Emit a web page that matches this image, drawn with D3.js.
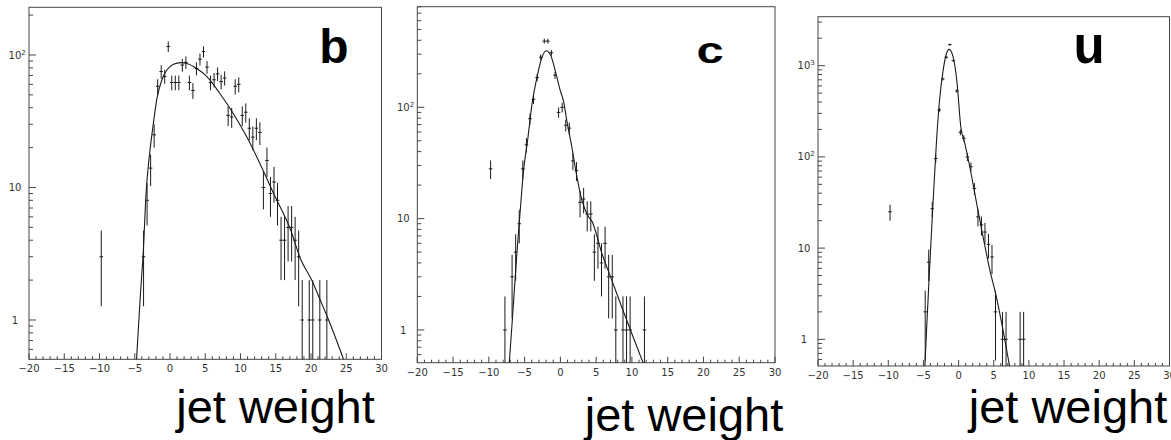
<!DOCTYPE html>
<html><head><meta charset="utf-8">
<script src="https://cdn.jsdelivr.net/npm/d3@7/dist/d3.min.js"></script>
<style>body{margin:0;background:#fff}svg{display:block}</style>
</head><body>
<svg id="chart" width="1171" height="440"></svg>
<script>
// ---------- data ----------
const xTickValues = [-20,-15,-10,-5,0,5,10,15,20,25,30];
const binWidth = 0.5;

// panel b
const bX = [-9.75,-3.75,-3.25,-2.75,-2.25,-1.75,-1.25,-0.75,-0.25,0.25,0.75,1.25,1.75,2.25,2.75,3.25,3.75,4.25,4.75,5.25,5.75,6.25,6.75,7.25,7.75,8.25,8.75,9.25,9.75,10.25,10.75,11.25,11.75,12.25,12.75,13.25,13.75,14.25,14.75,15.25,15.75,16.25,16.75,17.25,17.75,18.25,18.75,19.75,20.25,21.25,22.25];
const bN = [3,3,8,14,25,58,75,69,116,62,62,62,84,88,62,54,79,93,106,81,62,65,72,63,67,35,34,58,60,35,37,28,24,28,26,10,16,9,11,8,4,4,5,5,4,3,1,1,1,1,1];
const bFitX = [-4.75,-4.25,-3.75,-3.4,-3.05,-2.45,-1.85,-1.15,-0.45,0.5,1.5,2.5,3.8,5.2,7.1,9.0,10.9,12.8,14.7,17.1,18.5,20.1,21.3,22.5,24.65];
const bFitY = [0.5,1.4,3.6,9,15,28,47,65,77,85,87.5,86,79,69,51,36,24,15,9,4.8,2.9,2.0,1.42,1.0,0.5];
const bYTicks = [1,10,100];

// panel c
const cX = [-9.75,-7.75,-6.75,-6.25,-5.75,-5.25,-4.75,-4.25,-3.75,-3.25,-2.75,-2.25,-1.75,-1.25,-0.75,-0.25,0.25,0.75,1.25,1.75,2.25,2.75,3.25,3.75,4.25,4.75,5.25,5.75,6.25,6.75,7.25,7.75,8.75,9.25,9.75,11.75];
const cN = [28,1,3,5,9,28,46,79,118,185,282,393,393,309,194,90,100,69,65,33,27,14,15,11,11,5,6,4,6,3,3,1,1,1,1,1];
const cFitX = [-7.15,-6.69,-6.08,-5.61,-5.15,-4.59,-3.98,-3.28,-2.58,-2.0,-1.42,-0.73,-0.03,0.43,0.9,1.6,2.3,3.0,3.93,4.4,5.79,7.19,8.59,9.98,11.6];
const cFitY = [0.5,1.3,4.9,11.9,27,50,105,185,280,322,300,215,142,114,76,44,24,14.7,10.4,9.5,4.9,2.8,1.6,0.93,0.5];
const cYTicks = [1,10,100];

// panel u
const uX = [-9.75,-4.75,-4.25,-3.75,-3.25,-2.75,-2.25,-1.75,-1.25,-0.75,-0.25,0.25,0.75,1.25,1.75,2.25,2.75,3.25,3.75,4.25,4.75,5.25,6.25,6.75,8.75,9.25];
const uN = [25,2,7,27,96,327,715,1236,1700,1135,528,186,160,100,78,45,22,18,15,11,8,2,1,1,1,1];
const uFitX = [-4.8,-4.56,-4.09,-3.62,-3.14,-2.67,-2.2,-1.72,-1.35,-0.78,-0.21,0.31,0.88,1.59,2.6,3.48,4.43,5.38,6.32,7.27];
const uFitY = [0.5,1.26,6.8,33,150,450,890,1360,1510,1250,640,214,141,78,30,13.3,5.8,2.9,1.26,0.5];
const uYTicks = [1,10,100,1000];

const panelNames = ["b","c","u"];
const axisTitle = "jet weight";

// ---------- layout (positions & styles) ----------
const layout = [
  {left:29,   right:381.5, top:7.3,  bottom:359.3, yMin:0.505, yMax:229,
   lab:{x:334, y:62.5, size:48, sx:1}, title:{x:275.5, y:423}},
  {left:417.3,right:775,   top:6.7,  bottom:362.7, yMin:0.508, yMax:801,
   lab:{x:710, y:63.3, size:37, sx:1.32}, title:{x:684, y:431}},
  {left:818,  right:1169.5,top:16.7, bottom:366,   yMin:0.51,  yMax:3443,
   lab:{x:1089, y:63.3, size:51, sx:1}, title:{x:1068, y:423}}
];
const series = [
  {xs:bX, ns:bN, fx:bFitX, fy:bFitY, yt:bYTicks},
  {xs:cX, ns:cN, fx:cFitX, fy:cFitY, yt:cYTicks},
  {xs:uX, ns:uN, fx:uFitX, fy:uFitY, yt:uYTicks}
];

const svg = d3.select("#chart");
const ink = "#1a1a1a";
const tickFont = "'DejaVu Sans', sans-serif";

series.forEach((s, i) => {
  const L = layout[i];
  const x = d3.scaleLinear().domain([-20, 30]).range([L.left, L.right]);
  const y = d3.scaleLog().domain([L.yMin, L.yMax]).range([L.bottom, L.top]);
  const g = svg.append("g");

  const clipId = "clip" + i;
  svg.append("clipPath").attr("id", clipId).append("rect")
    .attr("x", L.left).attr("y", L.top)
    .attr("width", L.right - L.left).attr("height", L.bottom - L.top);

  // frame
  g.append("rect").attr("x", L.left).attr("y", L.top)
    .attr("width", L.right - L.left).attr("height", L.bottom - L.top)
    .attr("fill", "none").attr("stroke", "#444").attr("stroke-width", 1);

  // x ticks (inside, pointing up)
  const minorX = d3.range(-20, 31, 1);
  g.selectAll(".xt").data(minorX).enter().append("line")
    .attr("x1", d => x(d)).attr("x2", d => x(d))
    .attr("y1", L.bottom).attr("y2", d => L.bottom - (d % 5 === 0 ? 6 : 3))
    .attr("stroke", "#444").attr("stroke-width", 1);
  g.selectAll(".xl").data(xTickValues).enter().append("text")
    .attr("x", d => x(d)).attr("y", L.bottom + 13)
    .attr("text-anchor", "middle")
    .attr("font-family", tickFont).attr("font-size", 10).attr("fill", "#333")
    .text(d => d < 0 ? "\u2212" + Math.abs(d) : String(d));

  // y ticks (inside, pointing right)
  const minorY = [];
  for (let e = -1; e <= 4; e++) for (let m = 1; m <= 9; m++) {
    const v = m * Math.pow(10, e);
    if (v >= L.yMin && v <= L.yMax) minorY.push({v, major: m === 1});
  }
  g.selectAll(".yt").data(minorY).enter().append("line")
    .attr("x1", L.left).attr("x2", d => L.left + (d.major ? 7 : 4))
    .attr("y1", d => y(d.v)).attr("y2", d => y(d.v))
    .attr("stroke", "#444").attr("stroke-width", 1);
  const yl = g.selectAll(".yl").data(s.yt).enter().append("text")
    .attr("y", d => y(d) + 3.6)
    .attr("font-family", tickFont).attr("font-size", 10).attr("fill", "#333");
  yl.each(function(d) {
    const t = d3.select(this);
    const e = Math.round(Math.log10(d));
    if (e === 0) { t.attr("x", L.left - 14).attr("text-anchor", "middle").text("1"); }
    else if (e === 1) { t.attr("x", L.left - 14).attr("text-anchor", "middle").text("10"); }
    else {
      t.attr("x", L.left - 20.4);
      t.append("tspan").text("10");
      t.append("tspan").attr("font-size", 7).attr("dy", -4).text(String(e));
    }
  });

  // data with error bars
  const pts = s.xs.map((xv, k) => ({x: xv, n: s.ns[k]}));
  const dg = g.append("g").attr("clip-path", `url(#${clipId})`);
  dg.selectAll(".ev").data(pts).enter().append("line")
    .attr("x1", d => x(d.x)).attr("x2", d => x(d.x))
    .attr("y1", d => { const lo = d.n - Math.sqrt(d.n); return lo > L.yMin ? y(lo) : L.bottom + 2; })
    .attr("y2", d => y(d.n + Math.sqrt(d.n)))
    .attr("stroke", ink).attr("stroke-width", 1);
  dg.selectAll(".eh").data(pts).enter().append("line")
    .attr("x1", d => x(d.x - binWidth / 2)).attr("x2", d => x(d.x + binWidth / 2))
    .attr("y1", d => y(d.n)).attr("y2", d => y(d.n))
    .attr("stroke", ink).attr("stroke-width", 1);

  // fit curve
  const fit = s.fx.map((xv, k) => [xv, s.fy[k]]);
  dg.append("path").datum(fit)
    .attr("d", d3.line().x(d => x(d[0])).y(d => y(d[1])).curve(d3.curveMonotoneX))
    .attr("fill", "none").attr("stroke", ink).attr("stroke-width", 1.1);

  // panel label
  svg.append("text")
    .attr("transform", `translate(${L.lab.x},${L.lab.y}) scale(${L.lab.sx},1)`)
    .attr("text-anchor", "middle")
    .attr("font-family", "'Liberation Sans', Arial, sans-serif")
    .attr("font-weight", "bold").attr("font-size", L.lab.size).attr("fill", "#000")
    .text(panelNames[i]);

  // axis title
  svg.append("text")
    .attr("x", L.title.x).attr("y", L.title.y)
    .attr("text-anchor", "middle")
    .attr("font-family", "'Liberation Sans', Arial, sans-serif")
    .attr("font-size", 47).attr("fill", "#000")
    .text(axisTitle);
});
</script>
</body></html>
